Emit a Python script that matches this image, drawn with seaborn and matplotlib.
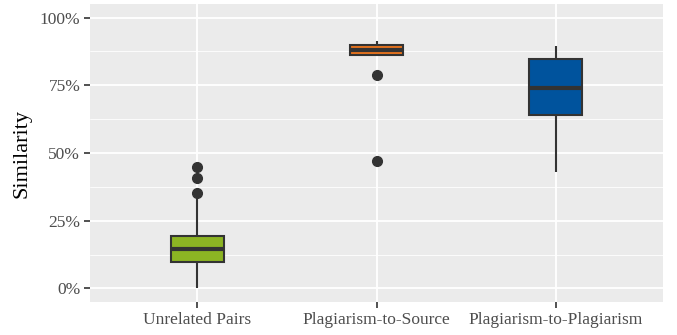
import matplotlib
matplotlib.use("Agg")
import matplotlib.pyplot as plt
from matplotlib.ticker import FuncFormatter, MultipleLocator
import seaborn as sns
import pandas as pd

# Values (fractions of 1), chosen to reproduce the box stats
categories = ["Unrelated Pairs", "Plagiarism-to-Source", "Plagiarism-to-Plagiarism"]
unrelated = [0.0, 0.04, 0.07, 0.09, 0.098, 0.11, 0.125, 0.138, 0.147,
             0.16, 0.175, 0.188, 0.195, 0.338, 0.352, 0.408, 0.448]
plag_source = [0.472, 0.788, 0.860, 0.872, 0.882, 0.892, 0.900, 0.910, 0.915]
plag_plag = [0.429, 0.641, 0.739, 0.848, 0.895]
colors = ["#8CB423", "#E6731E", "#00539D"]

df = pd.DataFrame({
    "group": [categories[0]] * len(unrelated) + [categories[1]] * len(plag_source)
             + [categories[2]] * len(plag_plag),
    "Similarity": unrelated + plag_source + plag_plag,
})

sns.set_theme(style="darkgrid")
plt.rcParams["font.family"] = ["Liberation Serif", "DejaVu Serif"]

fig = plt.figure(figsize=(6.77, 3.35), dpi=100)
ax = fig.add_axes([90 / 677, 1 - 302 / 335, (663 - 90) / 677, (302 - 4) / 335])
ax.set_facecolor("#EBEBEB")

sns.boxplot(data=df, x="group", y="Similarity", hue="group", order=categories,
            palette=colors, saturation=1, width=0.3, linecolor="#333333",
            linewidth=1.5, legend=False, ax=ax,
            medianprops={"linewidth": 3, "color": "#333333"},
            flierprops={"marker": "o", "markersize": 7, "markerfacecolor": "#333333",
                        "markeredgecolor": "#333333"},
            whiskerprops={"linewidth": 1.5}, capprops={"linewidth": 0})

ax.set_xlim(-0.6, 2.6)
ax.set_ylim(-0.05, 1.05)
ax.yaxis.set_major_locator(MultipleLocator(0.25))
ax.yaxis.set_minor_locator(MultipleLocator(0.125))
ax.yaxis.set_major_formatter(FuncFormatter(lambda v, p: f"{v * 100:.0f}%"))

ax.grid(which="major", color="white", linewidth=1.3)
ax.grid(which="minor", axis="y", color="white", linewidth=0.6)
ax.set_axisbelow(True)
for s in ax.spines.values():
    s.set_visible(False)

ax.tick_params(axis="both", which="major", length=4, width=1.2, color="#333333",
               labelcolor="#4D4D4D", labelsize=12.5, pad=3, left=True, bottom=True)
ax.tick_params(axis="y", which="minor", length=0)
ax.set_xlabel("")
ax.set_ylabel("Similarity", fontsize=16, color="black", labelpad=6)

fig.savefig("out.png", dpi=100)
